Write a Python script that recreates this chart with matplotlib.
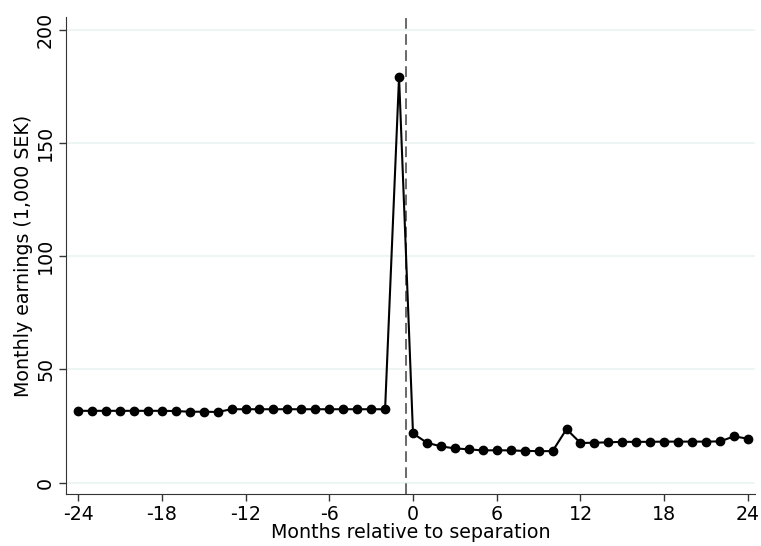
import numpy as np
import matplotlib.pyplot as plt

months = np.arange(-24, 25)
earnings = [
    31.7, 31.7, 31.7, 31.7, 31.7, 31.7, 31.7, 31.6, 31.3, 31.3, 31.2,
    32.4, 32.4, 32.4, 32.4, 32.4, 32.4, 32.4, 32.4, 32.4, 32.4, 32.4, 32.4,
    179.2,
    21.7, 17.6, 16.0, 15.1, 14.7, 14.2, 14.3, 14.2, 14.0, 13.9, 13.9,
    23.6, 17.5, 17.6, 17.8, 18.0, 18.0, 18.0, 18.1, 18.1, 18.1, 18.1, 18.2,
    20.4, 19.4,
]
xticks = np.arange(-24, 25, 6)
yticks = [0, 50, 100, 150, 200]

plt.rcParams['font.family'] = 'DejaVu Sans'
fig = plt.figure(figsize=(7.61, 5.46), dpi=100)
ax = fig.add_axes([0.087, 0.095, 0.905, 0.874])

ax.grid(True, axis='y', color='#eaf2f3', linewidth=1.1)
ax.set_axisbelow(True)
ax.axvline(-0.5, color='#404040', linewidth=1.1, dashes=(7, 3.5))
ax.plot(months, earnings, color='black', lw=1.5, marker='o', markersize=6)

ax.set_xlim(-24.85, 24.5)
ax.set_ylim(-5.1, 205.7)
ax.set_xticks(xticks)
ax.set_xticklabels([str(t) for t in xticks], fontsize=13.7)
ax.set_yticks(yticks)
ax.set_yticklabels([str(t) for t in yticks], fontsize=13.7, rotation=90, va='center')
ax.tick_params(length=5, width=1, color='#333333', pad=3)

for s in ['top', 'right']:
    ax.spines[s].set_visible(False)
for s in ['left', 'bottom']:
    ax.spines[s].set_color('#333333')

ax.set_xlabel('Months relative to separation', fontsize=13.7, labelpad=-1)
ax.set_ylabel('Monthly earnings (1,000 SEK)', fontsize=13.7, labelpad=2)

fig.savefig('out.png', dpi=100)
